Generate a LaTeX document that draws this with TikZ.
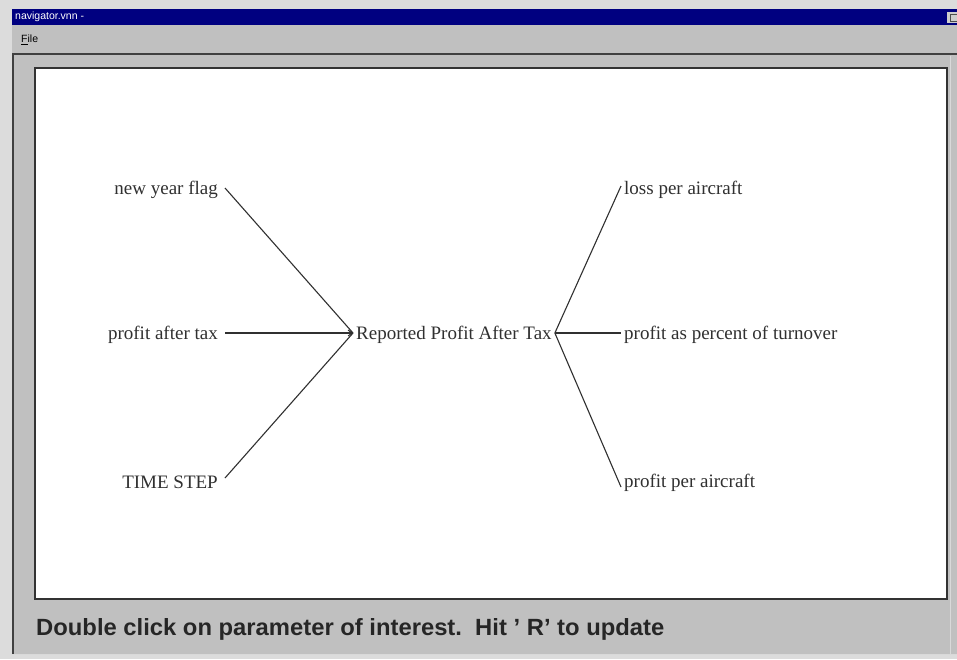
\documentclass[tikz,border=0pt]{standalone}
\usepackage{fontspec}
\setmainfont{Liberation Serif}
\setsansfont{Liberation Sans}
\usetikzlibrary{arrows.meta}
\definecolor{wingray}{HTML}{C0C0C0}
\definecolor{winlight}{HTML}{DCDCDC}
\definecolor{titlenavy}{HTML}{000080}
\definecolor{inktext}{HTML}{303030}
\tikzset{
  varlabel/.style={font=\fontsize{19}{22}\selectfont, text=inktext, inner ysep=0pt, inner xsep=3pt},
  link/.style={draw=inktext, line width=1.1pt},
  linkarrow/.style={link, -{Straight Barb[length=4pt,width=6pt]}},
  chrome/.style={font=\sffamily\fontsize{10.5}{12}\selectfont, inner sep=0pt},
}
\begin{document}
\begin{tikzpicture}[x=1pt,y=-1pt]
\useasboundingbox (0,0) rectangle (957,659);
% window background
\fill[winlight] (0,0) rectangle (957,659);
\fill[wingray] (12,9) rectangle (957,654);
% title bar
\fill[titlenavy] (12,9) rectangle (957,25);
\node[chrome, anchor=west, text=white] (title) at (15,17) {navigator.vnn -};
\fill[wingray!80!white] (947,12) rectangle (957,23);
\draw[black!70] (950,14) rectangle (957,21);
% menu
\node[chrome, anchor=west] (menu) at (21,40) {\underline{F}ile};
% frame lines
\draw[black!75, line width=1.5pt] (12,54) -- (957,54);
\draw[black!75, line width=1.5pt] (13,54) -- (13,654);
\draw[white!85!black, line width=1pt] (12,654.5) -- (957,654.5);
\draw[white!85!black, line width=1pt] (950,56) -- (950,654);
% inner white panel
\fill[white] (35,68) rectangle (947,599);
\draw[black!80, line width=2pt] (35,68) rectangle (947,599);
% nodes
\node[varlabel, anchor=west] (rep) at (353,335) {Reported Profit After Tax};
\node[varlabel, anchor=east] (nyf) at (221,190) {new year flag};
\node[varlabel, anchor=east] (pat) at (221,335) {profit after tax};
\node[varlabel, anchor=east] (ts) at (221,482) {TIME STEP};
\node[varlabel, anchor=west] (lpa) at (621,190) {loss per aircraft};
\node[varlabel, anchor=west] (papt) at (621,335) {profit as percent of turnover};
\node[varlabel, anchor=west] (ppa) at (621,483) {profit per aircraft};
% connectors
\draw[link] ([xshift=4pt,yshift=2pt]nyf.east) -- ([yshift=2pt]rep.west);
\draw[linkarrow] ([xshift=4pt,yshift=2pt]pat.east) -- ([yshift=2pt]rep.west);
\draw[link] ([xshift=4pt,yshift=4pt]ts.east) -- ([yshift=2pt]rep.west);
\draw[link] ([yshift=2pt]rep.east) -- ([yshift=4pt]lpa.west);
\draw[link] ([yshift=2pt]rep.east) -- ([yshift=2pt]papt.west);
\draw[link] ([yshift=2pt]rep.east) -- ([yshift=-4pt]ppa.west);
% status line
\node[anchor=base west, inner sep=0pt, text=black!85] (status) at (36,635) {\resizebox{628pt}{17pt}{\sffamily\bfseries Double click on parameter of interest.\ \ Hit ' R' to update}};
\end{tikzpicture}
\end{document}
